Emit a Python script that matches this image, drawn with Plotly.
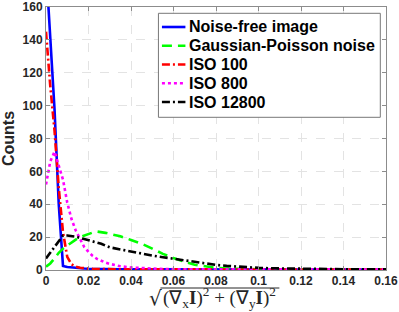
import plotly.graph_objects as go

x_vals = [0, .002, .004, .006, .008, .010, .012, .014, .016, .018, .020, .022, .024, .026, .028, .030,
          .035, .040, .045, .050, .055, .060, .065, .070, .075, .080, .085, .090, .095, .100,
          .105, .110, .115, .120, .125, .130, .135, .140, .145, .150, .155, .160]

noise_free = [185, 140, 98, 40, 2.5, 1.8, 1.5, 1.3, 1.1, 0.9, 0.8, 0.7, 0.6, 0.55, 0.5, 0.5,
              0.45, 0.4, 0.4, 0.35, 0.35, 0.3, 0.3, 0.3, 0.3, 0.25, 0.25, 0.25, 0.25, 0.25,
              0.2, 0.2, 0.2, 0.2, 0.2, 0.2, 0.2, 0.2, 0.2, 0.2, 0.2, 0.2]

gauss_poisson = [2, 4, 7, 10.5, 13, 15, 17, 18.5, 20, 21, 22, 22.8, 23.4, 23.2, 22.6, 22,
                 20.5, 18.3, 16, 13, 9.8, 7.3, 5, 3.2, 2.1, 1.3, 0.9, 0.6, 0.5, 0.4,
                 0.35, 0.3, 0.3, 0.3, 0.25, 0.25, 0.25, 0.25, 0.25, 0.2, 0.2, 0.2]

iso100 = [145, 112, 85, 50, 23, 8, 3.5, 2, 1.4, 1.0, 0.8, 0.7, 0.6, 0.55, 0.5, 0.5,
          0.45, 0.45, 0.4, 0.4, 0.4, 0.35, 0.35, 0.35, 0.3, 0.3, 0.3, 0.3, 0.3, 0.3,
          0.3, 0.3, 0.3, 0.3, 0.3, 0.3, 0.3, 0.3, 0.3, 0.3, 0.3, 0.3]

iso800 = [52, 66, 72, 64, 55, 41, 31, 24, 19, 14, 11, 8.5, 6.8, 5.5, 4.5, 3.7,
          2.3, 1.5, 1.1, 0.8, 0.6, 0.5, 0.5, 0.45, 0.45, 0.4, 0.4, 0.4, 0.35, 0.35,
          0.35, 0.35, 0.3, 0.3, 0.3, 0.3, 0.3, 0.3, 0.3, 0.3, 0.3, 0.3]

iso12800 = [7, 10.5, 14, 18, 21, 21, 20.8, 20.3, 19.5, 18.8, 18, 17.5, 17, 16, 14.8, 13.8,
            12.5, 11.2, 10.2, 8.8, 7.8, 6.8, 5.7, 4.7, 3.8, 3.1, 2.5, 2, 1.6, 1.3,
            1.05, 0.9, 0.8, 0.7, 0.65, 0.6, 0.55, 0.5, 0.45, 0.4, 0.4, 0.35]

series = [
    ("Noise-free image", noise_free, "#0000ff", "solid"),
    ("Gaussian-Poisson noise", gauss_poisson, "#00ff00", "10px,6px"),
    ("ISO 100", iso100, "#ff0000", "8px,3px,2px,3px"),
    ("ISO 800", iso800, "#ff00ff", "3px,3px"),
    ("ISO 12800", iso12800, "#000000", "8px,3px,2px,3px"),
]

x_ticks = [0, 0.02, 0.04, 0.06, 0.08, 0.1, 0.12, 0.14, 0.16]
x_tick_text = ["0", "0.02", "0.04", "0.06", "0.08", "0.1", "0.12", "0.14", "0.16"]
y_ticks = [0, 20, 40, 60, 80, 100, 120, 140, 160]

W, H = 399, 312
ML, MR, MT, MB = 45.5, 13.3, 7, 42
PW, PH = W - ML - MR, H - MT - MB


def px_x(px):
    return (px - ML) / PW


def px_y(py):
    return (H - MB - py) / PH


fig = go.Figure()
for name, vals, color, dash in series:
    fig.add_trace(go.Scatter(x=x_vals, y=vals, mode="lines", name=name, showlegend=False,
                             line=dict(color=color, width=2.6, dash=dash)))

axis_common = dict(showline=True, linecolor="#8c8c8c", linewidth=1, mirror="allticks",
                   ticks="inside", ticklen=4, tickcolor="#8c8c8c", automargin=False,
                   showgrid=True, gridcolor="#e3e3e3", griddash="dash", gridwidth=1,
                   zeroline=False,
                   tickfont=dict(family="Liberation Sans", size=12, color="#262626"))

fig.update_xaxes(range=[0, 0.16], tickvals=x_ticks, ticktext=[f"<b>{t}</b>" for t in x_tick_text],
                 **axis_common)
fig.update_yaxes(range=[0, 160], tickvals=y_ticks, ticktext=[f"<b>{t}</b>" for t in y_ticks],
                 title=dict(text="<b>Counts</b>", font=dict(family="Liberation Sans", size=16, color="#262626"),
                            standoff=6),
                 **axis_common)

# x-axis label: sqrt sign + radicand with overbar
fig.add_annotation(xref="paper", yref="paper", x=px_x(147), y=px_y(284), xanchor="left", yanchor="top",
                   text="√", showarrow=False,
                   font=dict(family="DejaVu Serif", size=20, color="#262626"))
fig.add_annotation(xref="paper", yref="paper", x=px_x(161), y=px_y(282), xanchor="left", yanchor="top",
                   text="(∇<sub>x</sub><b>I</b>)<sup>2</sup> + (∇<sub>y</sub><b>I</b>)<sup>2</sup>",
                   showarrow=False, font=dict(family="Liberation Serif", size=19, color="#262626"))
fig.add_shape(type="line", xref="paper", yref="paper", x0=px_x(160), x1=px_x(279),
              y0=px_y(288), y1=px_y(288), line=dict(color="#262626", width=1))

# legend drawn manually
LX0, LX1, LY0, LY1 = 158, 380, 13.3, 117.3
fig.add_shape(type="rect", xref="paper", yref="paper", x0=px_x(LX0), x1=px_x(LX1),
              y0=px_y(LY0), y1=px_y(LY1), line=dict(color="#777777", width=1), fillcolor="white",
              layer="above")
for i, (name, vals, color, dash) in enumerate(series):
    yc = 27 + i * 18.75
    fig.add_shape(type="line", xref="paper", yref="paper", x0=px_x(161.5), x1=px_x(185),
                  y0=px_y(yc), y1=px_y(yc), line=dict(color=color, width=2.6, dash=dash), layer="above")
    fig.add_annotation(xref="paper", yref="paper", x=px_x(186.5), y=px_y(yc), xanchor="left",
                       yanchor="middle", text=f"<b>{name}</b>", showarrow=False,
                       font=dict(family="Liberation Sans", size=16, color="black"))

fig.update_layout(
    width=W, height=H,
    margin=dict(l=ML, r=MR, t=MT, b=MB, autoexpand=False),
    paper_bgcolor="white", plot_bgcolor="white",
    showlegend=False,
)

fig.write_html("out.html", config={"displayModeBar": False},
               post_script="document.body.style.margin='0';document.body.style.padding='0';")
